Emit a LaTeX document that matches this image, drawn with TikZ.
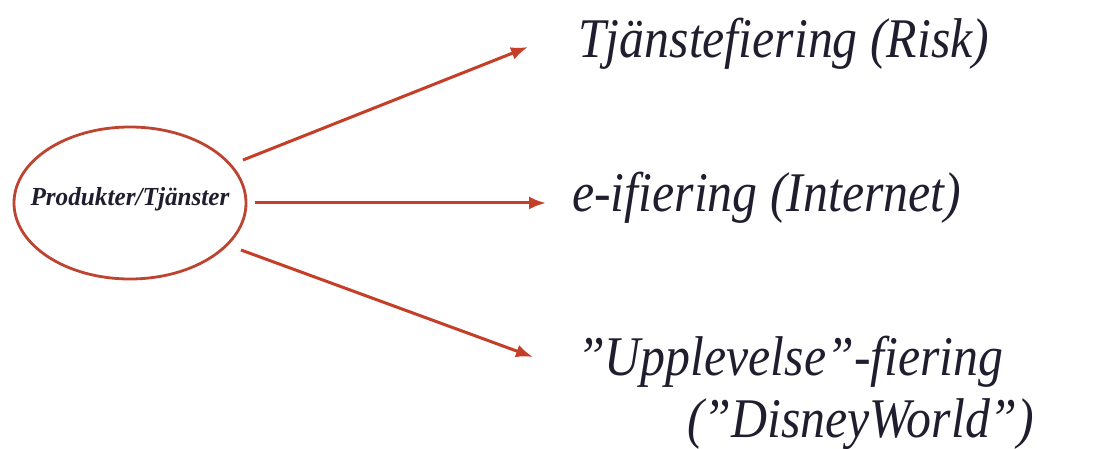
\documentclass[tikz,border=0pt]{standalone}
\usepackage{fontspec}
\setmainfont{Liberation Serif}
\usetikzlibrary{arrows.meta,calc,shapes.geometric}
\definecolor{arrowred}{RGB}{196,62,40}
\definecolor{ellred}{RGB}{188,68,48}
\definecolor{ink}{RGB}{32,30,46}
\newcommand{\sqz}[1]{\scalebox{0.89}[1]{#1}}
\tikzset{
  conn/.style={draw=arrowred, line width=3pt, -{Latex[length=17pt,width=13pt]}},
  lab/.style={anchor=base west, inner sep=0pt, text=ink, font=\fontsize{56}{70}\selectfont\itshape},
  srcbox/.style={draw=ellred, line width=2.8pt, ellipse, minimum width=232pt, minimum height=152pt, inner sep=0pt}
}
\begin{document}
\begin{tikzpicture}[x=1pt,y=-1pt]
\useasboundingbox (0,0) rectangle (1106,449);
\fill[white] (0,0) rectangle (1106,449);
\node[srcbox] (src) at (130,203) {};
\node[text=ink, inner sep=0pt, anchor=base, font=\fontsize{26}{30}\selectfont\bfseries\itshape] (srctxt) at (130,206) {\scalebox{0.97}[1]{Produkter/Tjänster}};
\node[lab] (l1) at (578,58) {\sqz{Tjänstefiering (Risk)}};
\node[lab] (l2) at (572,212) {\sqz{e-ifiering (Internet)}};
\node[lab] (l3) at (577,375) {\sqz{”Upplevelse”-fiering}};
\node[lab] (l4) at (687,437) {\sqz{(”DisneyWorld”)}};
\coordinate (s1) at ($(src.center)+(113,-43)$);
\coordinate (s2) at ($(src.center)+(125,0)$);
\coordinate (s3) at ($(src.center)+(111,47)$);
\coordinate (e1) at ($(l1.base west)+(-50,-11)$);
\coordinate (e2) at ($(l2.base west)+(-26,-9)$);
\coordinate (e3) at ($(l3.base west)+(-44,-18)$);
\draw[conn] (s1) -- (e1);
\draw[conn] (s2) -- (e2);
\draw[conn] (s3) -- (e3);
\end{tikzpicture}
\end{document}
